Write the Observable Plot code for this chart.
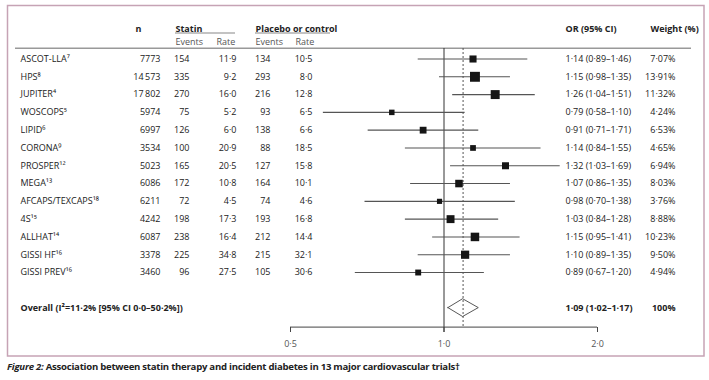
<!DOCTYPE html>
<html>
<head>
<meta charset="utf-8">
<script src="https://cdn.jsdelivr.net/npm/d3@7"></script>
<script src="https://cdn.jsdelivr.net/npm/@observablehq/plot@0.6"></script>
<style>
  html, body { margin: 0; padding: 0; background: #fff; }
  #chart svg { display: block; }
  #caption { font-family: "Open Sans", sans-serif; font-size: 9.6px; font-weight: bold; color: #222;
             letter-spacing: -0.26px; margin: 0 0 0 7px; padding-top: 4px; line-height: 12px; white-space: nowrap; }
</style>
</head>
<body>
<div id="chart"></div>
<div id="caption"><i>Figure 2:</i> Association between statin therapy and incident diabetes in 13 major cardiovascular trials†</div>
<script>
// ---- data ----
const studies = ["ASCOT-LLA⁷","HPS⁸","JUPITER⁴","WOSCOPS⁵","LIPID⁶","CORONA⁹","PROSPER¹²","MEGA¹³","AFCAPS/TEXCAPS¹⁸","4S¹⁵","ALLHAT¹⁴","GISSI HF¹⁶","GISSI PREV¹⁶"];
const nTotal = [7773,14573,17802,5974,6997,3534,5023,6086,6211,4242,6087,3378,3460];
const statinEvents = [154,335,270,75,126,100,165,172,72,198,238,225,96];
const statinRate = [11.9,9.2,16.0,5.2,6.0,20.9,20.5,10.8,4.5,17.3,16.4,34.8,27.5];
const placeboEvents = [134,293,216,93,138,88,127,164,74,193,212,215,105];
const placeboRate = [10.5,8.0,12.8,6.5,6.6,18.5,15.8,10.1,4.6,16.8,14.4,32.1,30.6];
const orValue = [1.14,1.15,1.26,0.79,0.91,1.14,1.32,1.07,0.98,1.03,1.15,1.10,0.89];
const ciLow = [0.89,0.98,1.04,0.58,0.71,0.84,1.03,0.86,0.70,0.84,0.95,0.89,0.67];
const ciHigh = [1.46,1.35,1.51,1.10,1.17,1.55,1.69,1.35,1.38,1.28,1.41,1.35,1.20];
// printed CI text (LIPID is printed as 1·71 in the source while drawn to 1·17)
const ciText = ["1·14 (0·89–1·46)","1·15 (0·98–1·35)","1·26 (1·04–1·51)","0·79 (0·58–1·10)","0·91 (0·71–1·71)","1·14 (0·84–1·55)","1·32 (1·03–1·69)","1·07 (0·86–1·35)","0·98 (0·70–1·38)","1·03 (0·84–1·28)","1·15 (0·95–1·41)","1·10 (0·89–1·35)","0·89 (0·67–1·20)"];
const weight = [7.07,13.91,11.32,4.24,6.53,4.65,6.94,8.03,3.76,8.88,10.23,9.50,4.94];
const overallLabel = "Overall (I²=11·2% [95% CI 0·0–50·2%])";
const overallOR = 1.09, overallLow = 1.02, overallHigh = 1.17;
const overallText = "1·09 (1·02–1·17)";
const overallWeight = "100%";
const ticks = [0.5, 1, 2];
const tickLabels = ["0·5","1·0","2·0"];
const headTop = ["n","Statin","Placebo or control","OR (95% CI)","Weight (%)"];
const headSub = ["Events","Rate","Events","Rate"];

// ---- build ----
const fmt1 = v => v.toFixed(1).replace(".", "·");
const fmt2 = v => v.toFixed(2).replace(".", "·");
const fmtN = v => v >= 10000 ? String(v).replace(/(\d)(\d{3})$/, "$1\u2009$2") : String(v);
const rows = studies.map((s, i) => ({
  i, study: s, n: nTotal[i], se: statinEvents[i], sr: statinRate[i],
  pe: placeboEvents[i], pr: placeboRate[i], or: orValue[i], lo: ciLow[i], hi: ciHigh[i],
  ci: ciText[i], w: weight[i]
}));
const overallRow = studies.length + 1;
const diamond = [
  {x: overallLow, y1: overallRow, y2: overallRow},
  {x: overallOR, y1: overallRow - 0.5, y2: overallRow + 0.5},
  {x: overallHigh, y1: overallRow, y2: overallRow}
];
const H = 357;
const ink = "#222";
const T = (data, opts) => Plot.text(data, {frameAnchor: "left", fill: ink, ...opts});

const chart = Plot.plot({
  width: 709, height: H, margin: 0,
  x: {type: "log", domain: [0.5, 2], range: [290, 597], axis: null},
  y: {domain: [0, overallRow], range: [58.5, 307.6], axis: null},
  r: {type: "sqrt", domain: [0, d3.max(weight)], range: [0, 5.6]},
  style: {fontFamily: "'Open Sans', sans-serif", fontSize: "9px", background: "white", overflow: "visible"},
  marks: [
    Plot.frame({stroke: "#c6a3b5", strokeWidth: 1.5, insetLeft: 7, insetTop: 5, insetRight: 5.5, insetBottom: 1.5}),
    // header
    Plot.text([headTop[0]], {text: d => d, frameAnchor: "top-left", dx: 135, dy: 25, fontWeight: "bold", fill: ink}),
    Plot.text([headTop[1]], {text: d => d, frameAnchor: "top-left", dx: 175, dy: 25, fontWeight: "bold", fill: ink}),
    Plot.text([headTop[2]], {text: d => d, frameAnchor: "top-left", dx: 255, dy: 25, fontWeight: "bold", fill: ink}),
    Plot.text([headTop[3]], {text: d => d, frameAnchor: "top-left", dx: 565, dy: 25, fontWeight: "bold", fill: ink}),
    Plot.text([headTop[4]], {text: d => d, frameAnchor: "top-left", dx: 650, dy: 25, fontWeight: "bold", fill: ink}),
    Plot.text([headSub[0]], {text: d => d, frameAnchor: "top-left", dx: 175, dy: 38, fill: "#555"}),
    Plot.text([headSub[1]], {text: d => d, frameAnchor: "top-left", dx: 216, dy: 38, fill: "#555"}),
    Plot.text([headSub[2]], {text: d => d, frameAnchor: "top-left", dx: 255, dy: 38, fill: "#555"}),
    Plot.text([headSub[3]], {text: d => d, frameAnchor: "top-left", dx: 295, dy: 38, fill: "#555"}),
    Plot.ruleY([0], {dy: -26, insetLeft: 175, insetRight: 474, stroke: "#888", strokeWidth: 1.2}),
    Plot.ruleY([0], {dy: -26, insetLeft: 255, insetRight: 379, stroke: "#888", strokeWidth: 1.2}),
    Plot.ruleY([0], {dy: -10.8, insetLeft: 15, insetRight: 18, stroke: "#999", strokeWidth: 1.5}),
    // reference lines
    Plot.ruleX([1], {insetTop: 48, insetBottom: H - 332, stroke: "#333"}),
    Plot.ruleX([overallOR], {insetTop: 48, insetBottom: H - 327, stroke: "#555", strokeDasharray: "2,2"}),
    // axis
    Plot.ruleY([overallRow], {x1: ticks[0], x2: ticks[ticks.length - 1], dy: 19, stroke: "#444"}),
    Plot.ruleX(ticks, {insetTop: 327, insetBottom: H - 332, stroke: "#444"}),
    Plot.text(ticks, {x: d => d, text: (d, i) => tickLabels[i], frameAnchor: "top", dy: 340, fill: "#555"}),
    // forest
    Plot.ruleY(rows, {y: "i", x1: "lo", x2: "hi", stroke: "#555", strokeWidth: 1.1}),
    Plot.dot(rows, {x: "or", y: "i", r: "w", symbol: "square", fill: "#151515"}),
    Plot.area(diamond, {x1: "x", y1: "y1", y2: "y2", fill: "none", stroke: "#444", strokeWidth: 0.9}),
    // table columns
    T(rows, {y: "i", text: "study", dx: 20, textAnchor: "start"}),
    T(rows, {y: "i", text: d => fmtN(d.n), dx: 160, textAnchor: "end"}),
    T(rows, {y: "i", text: d => String(d.se), dx: 189, textAnchor: "end"}),
    T(rows, {y: "i", text: d => fmt1(d.sr), dx: 236, textAnchor: "end"}),
    T(rows, {y: "i", text: d => String(d.pe), dx: 270, textAnchor: "end"}),
    T(rows, {y: "i", text: d => fmt1(d.pr), dx: 312, textAnchor: "end"}),
    T(rows, {y: "i", text: "ci", dx: 565, textAnchor: "start"}),
    T(rows, {y: "i", text: d => fmt2(d.w) + "%", dx: 675, textAnchor: "end"}),
    // overall
    T([overallLabel], {y: () => overallRow, text: d => d, dx: 20, textAnchor: "start", fontWeight: "bold"}),
    T([overallText], {y: () => overallRow, text: d => d, dx: 565, textAnchor: "start", fontWeight: "bold"}),
    T([overallWeight], {y: () => overallRow, text: d => d, dx: 675, textAnchor: "end", fontWeight: "bold"})
  ]
});
document.getElementById("chart").appendChild(chart);
</script>
</body>
</html>
